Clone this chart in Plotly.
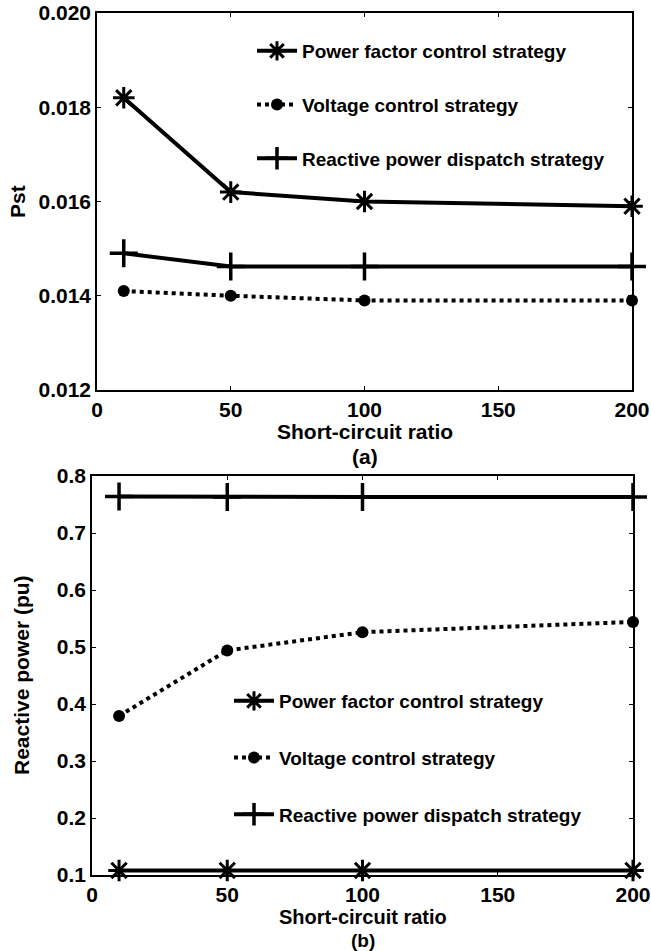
import plotly.graph_objects as go

ratio = [10, 50, 100, 200]
names = ["Power factor control strategy", "Voltage control strategy", "Reactive power dispatch strategy"]

pst_pf = [0.0182, 0.0162, 0.0160, 0.0159]
pst_vc = [0.0141, 0.0140, 0.0139, 0.0139]
pst_rd = [0.0149, 0.01462, 0.01462, 0.01462]

q_pf = [0.108, 0.108, 0.108, 0.108]
q_vc = [0.379, 0.494, 0.526, 0.544]
q_rd = [0.764, 0.763, 0.763, 0.763]

x_ticks = [0, 50, 100, 150, 200]
pst_ticks = [0.012, 0.014, 0.016, 0.018, 0.020]
q_ticks = [0.1, 0.2, 0.3, 0.4, 0.5, 0.6, 0.7, 0.8]

FONT = "Liberation Sans, Arial, sans-serif"
styles = [
    dict(line=dict(color="black", width=4), marker=dict(symbol="asterisk-open", size=18, line=dict(color="black", width=3))),
    dict(line=dict(color="black", width=4, dash="dot"), marker=dict(symbol="circle", size=12, color="black")),
    dict(line=dict(color="black", width=4), marker=dict(symbol="cross-thin-open", size=20, line=dict(color="black", width=3.5))),
]

fig = go.Figure()
for i, (ys, st) in enumerate(zip([pst_pf, pst_vc, pst_rd], styles)):
    fig.add_trace(go.Scatter(x=ratio, y=ys, mode="lines+markers", name=names[i], legendgroup="a%d" % i,
                             legend="legend", xaxis="x", yaxis="y", cliponaxis=False, **st))
for i, (ys, st) in enumerate(zip([q_pf, q_vc, q_rd], styles)):
    fig.add_trace(go.Scatter(x=ratio, y=ys, mode="lines+markers", name=names[i], legendgroup="b%d" % i,
                             legend="legend2", xaxis="x2", yaxis="y2", cliponaxis=False, **st))

tickfont = dict(family=FONT, size=21, color="black", weight="bold")
titlefont = dict(family=FONT, size=21, color="black", weight="bold")
titlefont_b = dict(family=FONT, size=20, color="black", weight="bold")
labfont_b = dict(family=FONT, size=19, color="black", weight="bold")
axcommon = dict(showline=True, linecolor="black", linewidth=1.5, mirror="ticks", ticks="inside",
                ticklen=4, tickcolor="black", showgrid=False, zeroline=False, tickfont=tickfont,
                automargin=False)

H = 951.0
W = 651.0
def py(px):
    return (H - px) / H

annotations = [
    dict(text="Short-circuit ratio", x=(97 + 632) / 2 / W, y=py(432), xref="paper", yref="paper",
         showarrow=False, font=titlefont, xanchor="center", yanchor="middle", borderpad=0),
    dict(text="(a)", x=(97 + 632) / 2 / W, y=py(456), xref="paper", yref="paper",
         showarrow=False, font=titlefont, xanchor="center", yanchor="middle", borderpad=0),
    dict(text="Short-circuit ratio", x=(92 + 633) / 2 / W, y=py(917), xref="paper", yref="paper",
         showarrow=False, font=titlefont_b, xanchor="center", yanchor="middle", borderpad=0),
    dict(text="(b)", x=(92 + 633) / 2 / W, y=py(940), xref="paper", yref="paper",
         showarrow=False, font=labfont_b, xanchor="center", yanchor="middle", borderpad=0),
    dict(text="Pst", x=17 / W, y=py(202), xref="paper", yref="paper", textangle=-90,
         showarrow=False, font=titlefont, xanchor="center", yanchor="middle"),
    dict(text="Reactive power (pu)", x=21 / W, y=py(675), xref="paper", yref="paper", textangle=-90,
         showarrow=False, font=titlefont, xanchor="center", yanchor="middle"),
]

fig.update_layout(
    template="none",
    width=651, height=951, margin=dict(l=0, r=0, t=0, b=0, autoexpand=False),
    paper_bgcolor="white", plot_bgcolor="white",
    xaxis=dict(domain=[97/W, 632/W], anchor="y", range=[0, 200], tickvals=x_ticks, **axcommon),
    yaxis=dict(domain=[py(390), py(13)], anchor="x", range=[0.012, 0.020], tickvals=pst_ticks,
               tickformat=".3f", **axcommon),
    xaxis2=dict(domain=[92/W, 633/W], anchor="y2", range=[0, 200], tickvals=x_ticks, **axcommon),
    yaxis2=dict(domain=[py(875), py(476)], anchor="x2", range=[0.1, 0.8], tickvals=q_ticks,
                tickformat=".1f", **axcommon),
    legend=dict(x=252/W, y=py(32), xanchor="left", yanchor="top", bgcolor="rgba(0,0,0,0)",
                font=dict(family=FONT, size=19, color="black", weight="bold"), tracegroupgap=26,
                itemwidth=40),
    legend2=dict(x=229/W, y=py(682), xanchor="left", yanchor="top", bgcolor="rgba(0,0,0,0)",
                 font=dict(family=FONT, size=19, color="black", weight="bold"), tracegroupgap=29,
                 itemwidth=40),
    showlegend=True,
    annotations=annotations,
)

fig.write_html("out.html")
